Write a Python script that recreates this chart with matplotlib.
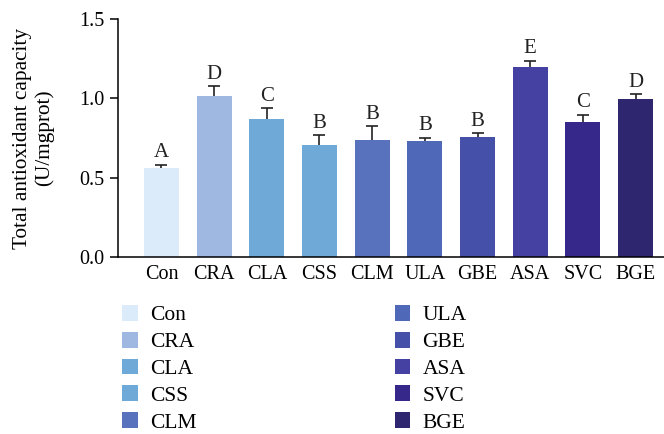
import matplotlib
matplotlib.use('Agg')
from matplotlib import pyplot as plt
from matplotlib.patches import Patch

groups = ['Con', 'CRA', 'CLA', 'CSS', 'CLM', 'ULA', 'GBE', 'ASA', 'SVC', 'BGE']
tac = [0.56, 1.015, 0.87, 0.705, 0.735, 0.73, 0.757, 1.197, 0.852, 0.996]
sd = [0.023, 0.06, 0.067, 0.063, 0.09, 0.021, 0.025, 0.04, 0.046, 0.031]
letters = ['A', 'D', 'C', 'B', 'B', 'B', 'B', 'E', 'C', 'D']
colors = ['#dcebf9', '#9fb8e2', '#6ea9d8', '#6ea9d8', '#5872bd',
          '#5068b8', '#4550a9', '#4441a3', '#36288a', '#2f2670']

plt.rcParams['font.family'] = ['Liberation Serif', 'DejaVu Serif']
plt.rcParams['font.size'] = 14

fig = plt.figure(figsize=(6.64, 4.34), dpi=100)
ax = fig.add_axes([0.1777, 0.4078, 0.8223, 0.5484])

x = range(len(groups))
# bars sit above the error bars so only the upper half shows
ax.bar(x, tac, width=0.66, color=colors, zorder=3)
ax.errorbar(x, tac, yerr=sd, fmt='none', ecolor='#222222',
            elinewidth=1.2, capsize=4.6, capthick=1.2, zorder=2)

# significance letters over the error caps
for i, (v, e, s) in enumerate(zip(tac, sd, letters)):
    ax.text(i, v + e + 0.015, s, ha='center', va='bottom', fontsize=15, color='#222222')

ax.set_xlim(-0.825, 9.54)
ax.set_ylim(0, 1.5)
ax.set_yticks([0.0, 0.5, 1.0, 1.5])
ax.set_yticklabels(['0.0', '0.5', '1.0', '1.5'])
ax.set_xticks(list(x))
ax.set_xticklabels(groups)
ax.tick_params(axis='x', length=0, pad=6, labelsize=14.5)
ax.tick_params(axis='y', length=6, width=1.1, labelsize=14.5, direction='out')
ax.set_ylabel('Total antioxidant capacity\n(U/mgprot)', fontsize=15.3,
              linespacing=1.2, labelpad=18)

ax.spines['top'].set_visible(False)
ax.spines['right'].set_visible(False)
ax.spines['left'].set_linewidth(1.1)
ax.spines['bottom'].set_linewidth(1.1)
ax.spines['bottom'].set_zorder(4)

handles = [Patch(facecolor=c, label=g) for g, c in zip(groups, colors)]
fig.legend(handles=handles, ncol=2, loc='upper left', bbox_to_anchor=(0.1837, 0.297),
           frameon=False, fontsize=15.5, handlelength=0.74, handleheight=0.74,
           handletextpad=0.56, columnspacing=9.2, labelspacing=0.3,
           borderaxespad=0, borderpad=0)

fig.savefig('out.png', dpi=100)
